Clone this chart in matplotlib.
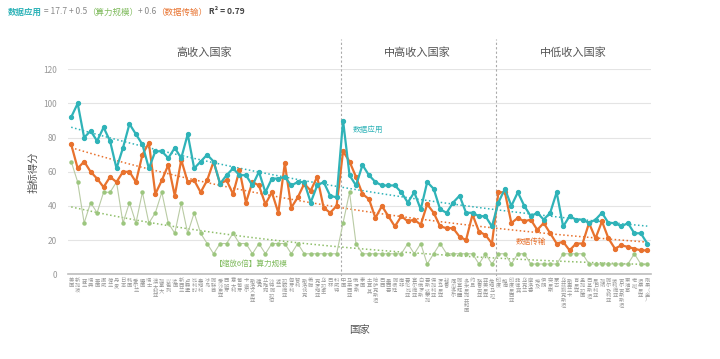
import matplotlib
matplotlib.use('Agg')
import matplotlib.pyplot as plt
import numpy as np

plt.rcParams['font.family'] = ['Noto Sans CJK SC', 'DejaVu Sans']

# groups of countries (by income level)
groups = ['高收入国家', '中高收入国家', '中低收入国家']
high_names = ['美国', '新加坡', '芬兰', '瑞典', '英国', '挪威', '荷兰', '丹麦', '日本', '韩国',
              '爱尔兰', '德国', '瑞士', '澳大利亚', '加拿大', '以色列', '法国', '新西兰', '卢森堡', '比利时',
              '奥地利', '冰岛', '阿联酋', '爱沙尼亚', '西班牙', '意大利', '葡萄牙', '卡塔尔', '斯洛文尼亚', '捷克',
              '立陶宛', '沙特阿拉伯', '波兰', '拉脱维亚', '匈牙利', '智利', '斯洛伐克', '希腊', '克罗地亚', '乌拉圭',
              '巴林', '科威特']
upper_mid_names = ['中国', '马来西亚', '俄罗斯', '泰国', '土耳其', '哈萨克斯坦', '巴西', '墨西哥', '阿根廷', '南非',
                   '哥伦比亚', '塞尔维亚', '白俄罗斯', '哥斯达黎加', '保加利亚', '罗马尼亚', '秘鲁', '厄瓜多尔', '阿塞拜疆',
                   '多米尼加共和国', '约旦', '格鲁吉亚', '亚美尼亚', '危地马拉']
lower_mid_names = ['印度', '越南', '印度尼西亚', '菲律宾', '乌克兰', '摩洛哥', '埃及', '伊朗', '突尼斯', '蒙古',
                   '乌兹别克斯坦', '斯里兰卡', '肯尼亚', '孟加拉国', '巴基斯坦', '尼日利亚', '加纳', '阿尔及利亚', '玻利维亚',
                   '吉尔吉斯斯坦', '柬埔寨', '老挝', '坦桑尼亚', '刚果（金）']

# 数据应用
app_high = [92, 100, 80, 84, 78, 86, 78, 62, 74, 88, 82, 76, 62, 72, 72, 68, 74, 68, 82, 62,
            66, 70, 66, 53, 58, 62, 58, 58, 52, 60, 48, 56, 56, 57, 52, 54, 54, 42, 52, 54, 46, 45]
app_upper = [90, 58, 52, 64, 58, 54, 52, 52, 52, 48, 42, 48, 38, 54, 50, 38, 36, 42, 46, 36, 36, 34, 34, 28]
app_lower = [42, 50, 40, 48, 40, 34, 36, 32, 36, 48, 28, 34, 32, 32, 30, 32, 36, 30, 30, 28, 30, 24, 24, 18]

# 数据传输
trans_high = [76, 62, 66, 60, 56, 51, 57, 54, 60, 60, 54, 70, 77, 47, 55, 64, 46, 67, 54, 55,
              48, 55, 66, 53, 55, 47, 61, 42, 54, 52, 41, 48, 36, 65, 39, 45, 53, 49, 57, 39, 36, 40]
trans_upper = [72, 66, 57, 47, 44, 33, 40, 34, 28, 34, 31, 32, 29, 41, 36, 28, 27, 27, 22, 20, 35, 25, 23, 18]
trans_lower = [48, 48, 30, 33, 31, 32, 26, 30, 24, 18, 19, 14, 18, 18, 30, 21, 31, 21, 15, 17, 16, 15, 14, 14]

# 算力规模 (scaled x6)
comp_high = [66, 54, 30, 42, 36, 48, 48, 54, 30, 42, 30, 48, 30, 36, 48, 30, 24, 42, 24, 36,
             24, 18, 12, 18, 18, 24, 18, 18, 12, 18, 12, 18, 18, 18, 12, 18, 12, 12, 12, 12, 12, 12]
comp_upper = [30, 48, 18, 12, 12, 12, 12, 12, 12, 12, 18, 12, 18, 6, 12, 18, 12, 12, 12, 12, 12, 6, 12, 6]
comp_lower = [12, 12, 6, 12, 12, 6, 6, 6, 6, 6, 12, 12, 12, 12, 6, 6, 6, 6, 6, 6, 6, 12, 6, 6]

names = high_names + upper_mid_names + lower_mid_names
app = np.array(app_high + app_upper + app_lower, dtype=float)
trans = np.array(trans_high + trans_upper + trans_lower, dtype=float)
comp = np.array(comp_high + comp_upper + comp_lower, dtype=float)
sizes = [len(high_names), len(upper_mid_names), len(lower_mid_names)]

TEAL = '#2fb3b8'
ORANGE = '#e8722e'
GREEN = '#9cc67e'
GREEN_LINE = '#b9cba4'
GRAY = '#888888'

fig = plt.figure(figsize=(7.2, 3.59), dpi=100)
ax = fig.add_axes([0.0944, 0.236, 0.81, 0.571])
x = np.arange(len(names))

# exponential trend lines
for y, c in [(app, TEAL), (trans, ORANGE), (comp, '#8fbf6a')]:
    k, b = np.polyfit(x, np.log(y), 1)
    ax.plot(x, np.exp(b + k * x), ls=(0, (1, 1.6)), color=c, lw=1.1, zorder=2)

ax.plot(x, comp, color=GREEN_LINE, lw=0.8, marker='o', ms=2.2, mfc=GREEN, mec=GREEN, zorder=3)
ax.plot(x, trans, color=ORANGE, lw=1.6, marker='o', ms=2.8, zorder=4)
ax.plot(x, app, color=TEAL, lw=1.6, marker='o', ms=2.8, zorder=5)

ax.set_xlim(-0.5, 89.6)
ax.set_ylim(0, 120)
ax.set_yticks(range(0, 121, 20))
ax.grid(axis='y', color='#e4e4e4', lw=0.8)
ax.set_axisbelow(True)
for s in ['top', 'right', 'left']:
    ax.spines[s].set_visible(False)
ax.spines['bottom'].set_color('#bdbdbd')
ax.spines['bottom'].set_linewidth(1.2)
ax.tick_params(axis='y', length=0, labelsize=6, labelcolor='#999999', pad=8)
ax.tick_params(axis='x', length=0, pad=3)
ax.set_xticks(x)
ax.set_xticklabels(['\n'.join(n) for n in names], fontsize=3.8, color='#999999',
                   linespacing=0.95, va='top')

ax.set_ylabel('指标得分', fontsize=7.5, color='#555555', labelpad=3)
ax.set_xlabel('国家', fontsize=7.5, color='#555555', labelpad=9)

# group dividers and labels
start = 0
for i, (g, n) in enumerate(zip(groups, sizes)):
    ax.text(start + (n - 1) / 2, 130, g, ha='center', va='center', fontsize=8, color='#555555',
            clip_on=False)
    if i > 0:
        ax.axvline(start - 0.3, ymin=-0.03, ymax=1.15, color='#aaaaaa', ls=(0, (2, 2)), lw=0.8,
                   clip_on=False)
    start += n

ax.text(43.5, 84.5, '数据应用', color=TEAL, fontsize=5.5, va='center', ha='left')
ax.text(68.6, 19, '数据传输', color=ORANGE, fontsize=5.5, va='center', ha='left')
ax.text(22.2, 6, '【缩放6倍】算力规模', color='#7fba5c', fontsize=5.5, va='center', ha='left')

# formula title with coloured parts
pieces = [('数据应用', TEAL, 'bold'), (' = 17.7 + 0.5', GRAY, 'normal'),
          ('（算力规模）', '#7fba5c', 'normal'), ('+ 0.6', GRAY, 'normal'),
          ('（数据传输）', ORANGE, 'normal'), (' R² = 0.79', '#444444', 'bold')]
renderer = fig.canvas.get_renderer()
xpos = 8 / 720
for s, c, w in pieces:
    t = fig.text(xpos, 1 - 12 / 359, s, color=c, fontsize=6.1, fontweight=w, va='center', ha='left')
    bb = t.get_window_extent(renderer)
    xpos = bb.x1 / fig.bbox.width

fig.savefig('out.png', dpi=100)
